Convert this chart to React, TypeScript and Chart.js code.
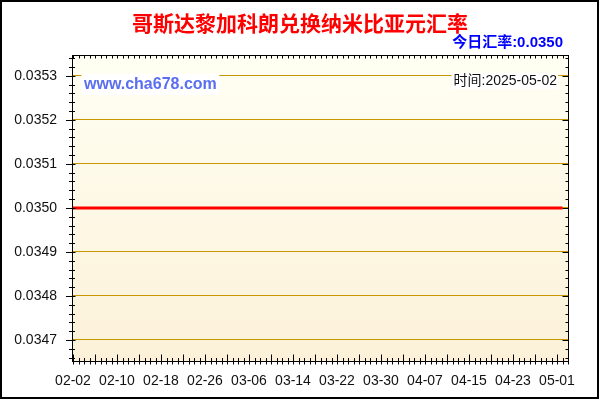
import React, { useEffect, useRef } from 'react';
import { Chart, registerables } from 'chart.js';

Chart.register(...registerables);

const TITLE = '哥斯达黎加科朗兑换纳米比亚元汇率';
const TODAY_LABEL = '今日汇率:0.0350';
const TIME_LABEL = '时间:2025-05-02';
const WATERMARK = 'www.cha678.com';

const dates = [
  '02-02', '02-03', '02-04', '02-05', '02-06', '02-07', '02-08', '02-09', '02-10', '02-11',
  '02-12', '02-13', '02-14', '02-15', '02-16', '02-17', '02-18', '02-19', '02-20', '02-21',
  '02-22', '02-23', '02-24', '02-25', '02-26', '02-27', '02-28',
  '03-01', '03-02', '03-03', '03-04', '03-05', '03-06', '03-07', '03-08', '03-09', '03-10',
  '03-11', '03-12', '03-13', '03-14', '03-15', '03-16', '03-17', '03-18', '03-19', '03-20',
  '03-21', '03-22', '03-23', '03-24', '03-25', '03-26', '03-27', '03-28', '03-29', '03-30', '03-31',
  '04-01', '04-02', '04-03', '04-04', '04-05', '04-06', '04-07', '04-08', '04-09', '04-10',
  '04-11', '04-12', '04-13', '04-14', '04-15', '04-16', '04-17', '04-18', '04-19', '04-20',
  '04-21', '04-22', '04-23', '04-24', '04-25', '04-26', '04-27', '04-28', '04-29', '04-30',
  '05-01', '05-02',
];

const rates = [
  0.0350, 0.0350, 0.0350, 0.0350, 0.0350, 0.0350, 0.0350, 0.0350, 0.0350, 0.0350,
  0.0350, 0.0350, 0.0350, 0.0350, 0.0350, 0.0350, 0.0350, 0.0350, 0.0350, 0.0350,
  0.0350, 0.0350, 0.0350, 0.0350, 0.0350, 0.0350, 0.0350,
  0.0350, 0.0350, 0.0350, 0.0350, 0.0350, 0.0350, 0.0350, 0.0350, 0.0350, 0.0350,
  0.0350, 0.0350, 0.0350, 0.0350, 0.0350, 0.0350, 0.0350, 0.0350, 0.0350, 0.0350,
  0.0350, 0.0350, 0.0350, 0.0350, 0.0350, 0.0350, 0.0350, 0.0350, 0.0350, 0.0350, 0.0350,
  0.0350, 0.0350, 0.0350, 0.0350, 0.0350, 0.0350, 0.0350, 0.0350, 0.0350, 0.0350,
  0.0350, 0.0350, 0.0350, 0.0350, 0.0350, 0.0350, 0.0350, 0.0350, 0.0350, 0.0350,
  0.0350, 0.0350, 0.0350, 0.0350, 0.0350, 0.0350, 0.0350, 0.0350, 0.0350, 0.0350,
  0.0350, 0.0350,
];

const xTickLabels = ['02-02', '02-10', '02-18', '02-26', '03-06', '03-14', '03-22', '03-30', '04-07', '04-15', '04-23', '05-01'];
const yTicks = [0.0347, 0.0348, 0.0349, 0.0350, 0.0351, 0.0352, 0.0353];
const yMin = 0.03465;
const yMax = 0.035345;
const yMinorStep = 0.00002;

const LABEL_FONT = '"Liberation Sans", Arial, sans-serif';
const CJK_FONT = '"Liberation Sans", "Noto Sans CJK SC", sans-serif';

const backgroundPlugin = {
  id: 'bgPlugin',
  beforeDraw(chart: any) {
    const { ctx, chartArea } = chart;
    const { left, right, top, bottom } = chartArea;
    ctx.save();
    ctx.fillStyle = '#FFFFFF';
    ctx.fillRect(0, 0, chart.width, chart.height);
    const g = ctx.createLinearGradient(0, top, 0, bottom);
    g.addColorStop(0, '#FFFFF3');
    g.addColorStop(1, '#FCF1D8');
    ctx.fillStyle = g;
    ctx.fillRect(left, top, right - left, bottom - top);
    ctx.restore();
  },
};

const decorPlugin = {
  id: 'decorPlugin',
  afterDraw(chart: any) {
    const { ctx, chartArea } = chart;
    const { left, right, top, bottom } = chartArea;
    const xs = chart.scales.x;
    const ys = chart.scales.y;
    ctx.save();

    // frame
    const L = Math.round(left) - 0.5;
    const R = Math.round(right) + 0.5;
    const T = Math.round(top) - 0.5;
    const B = Math.round(bottom) - 0.5;
    ctx.strokeStyle = '#000000';
    ctx.lineWidth = 1;
    ctx.strokeRect(L, T, R - L, B - T);

    // x ticks (every day), major every 4 days
    ctx.beginPath();
    for (let d = 0; d <= dates.length; d++) {
      const px = Math.round(xs.getPixelForValue(d)) + 0.5;
      const major = d % 4 === 0;
      ctx.moveTo(px, B + 3);
      ctx.lineTo(px, B - (major ? 7 : 3.5));
      ctx.moveTo(px, T);
      ctx.lineTo(px, T + 3);
    }
    // y ticks
    const kStart = Math.ceil(yMin / yMinorStep - 1e-6);
    const kEnd = Math.floor(yMax / yMinorStep + 1e-6);
    for (let k = kStart; k <= kEnd; k++) {
      const v = k * yMinorStep;
      const py = Math.round(ys.getPixelForValue(v)) + 0.5;
      const major = k % 5 === 0;
      ctx.moveTo(L - (major ? 6.5 : 3.5), py);
      ctx.lineTo(L + (major ? 3 : 2.5), py);
      ctx.moveTo(R, py);
      ctx.lineTo(R - (major ? 6 : 3), py);
    }
    ctx.stroke();

    // watermark
    ctx.font = 'bold 16px ' + LABEL_FONT;
    ctx.textBaseline = 'middle';
    ctx.textAlign = 'left';
    const wmW = ctx.measureText(WATERMARK).width;
    const wmX = 84;
    const wmY = 85;
    ctx.fillStyle = '#FFFFFF';
    ctx.fillRect(wmX - 2.5, 74, wmW + 5, 21);
    ctx.fillStyle = '#5A6EF0';
    ctx.fillText(WATERMARK, wmX, wmY);

    // time label
    ctx.font = '14px ' + CJK_FONT;
    ctx.textAlign = 'right';
    const tW = ctx.measureText(TIME_LABEL).width;
    const tX = 557;
    ctx.fillStyle = '#FFFFFF';
    ctx.fillRect(tX - tW - 2, 73, tW + 3, 16);
    ctx.fillStyle = '#111111';
    ctx.fillText(TIME_LABEL, tX, 81);

    // title
    ctx.font = 'bold 21px "Noto Sans CJK SC", sans-serif';
    ctx.textAlign = 'center';
    ctx.fillStyle = '#FF0000';
    ctx.fillText(TITLE, 300, 23);

    // today rate
    ctx.font = 'bold 15px ' + CJK_FONT;
    ctx.textAlign = 'right';
    ctx.fillStyle = '#0000FF';
    ctx.fillText(TODAY_LABEL, 563, 43);

    // outer border
    ctx.strokeStyle = '#000000';
    ctx.lineWidth = 2;
    ctx.strokeRect(1, 1, chart.width - 3, chart.height - 3);

    ctx.restore();
  },
};

export default function App() {
  const canvasRef = useRef<HTMLCanvasElement | null>(null);

  useEffect(() => {
    const canvas = canvasRef.current;
    if (!canvas) return;
    const chart = new Chart(canvas, {
      type: 'line',
      data: {
        datasets: [
          {
            data: rates.map((v, i) => ({ x: i, y: v })),
            borderColor: '#FF0000',
            borderWidth: 3,
            pointRadius: 0,
            tension: 0,
            fill: false,
          },
        ],
      },
      options: {
        animation: false,
        responsive: false,
        maintainAspectRatio: false,
        devicePixelRatio: 1,
        layout: { padding: { left: 0, top: 56, right: 32, bottom: 0 } },
        plugins: {
          legend: { display: false },
          tooltip: { enabled: false },
          title: { display: false },
        },
        scales: {
          x: {
            type: 'linear',
            min: 0,
            max: dates.length,
            afterBuildTicks: (s: any) => {
              s.ticks = xTickLabels.map((l) => ({ value: dates.indexOf(l) }));
            },
            afterFit: (s: any) => {
              s.height = 38;
            },
            grid: { display: false, drawTicks: false },
            border: { display: false },
            ticks: {
              callback: (v: any) => dates[Number(v)] ?? '',
              autoSkip: false,
              maxRotation: 0,
              minRotation: 0,
              padding: 11,
              color: '#111111',
              font: { family: LABEL_FONT, size: 14 },
            },
          },
          y: {
            type: 'linear',
            min: yMin,
            max: yMax,
            afterBuildTicks: (s: any) => {
              s.ticks = yTicks.map((v) => ({ value: v }));
            },
            afterFit: (s: any) => {
              s.width = 73;
            },
            grid: { color: '#C89600', lineWidth: 1, drawTicks: false },
            border: { display: false },
            ticks: {
              callback: (v: any) => Number(v).toFixed(4),
              padding: 16,
              color: '#111111',
              font: { family: LABEL_FONT, size: 14 },
            },
          },
        },
      },
      plugins: [backgroundPlugin, decorPlugin],
    } as any);
    return () => {
      chart.destroy();
    };
  }, []);

  return (
    <div style={{ position: 'fixed', left: 0, top: 0, width: 600, height: 400 }}>
      <canvas ref={canvasRef} width={600} height={400} style={{ display: 'block', width: 600, height: 400 }} />
    </div>
  );
}
